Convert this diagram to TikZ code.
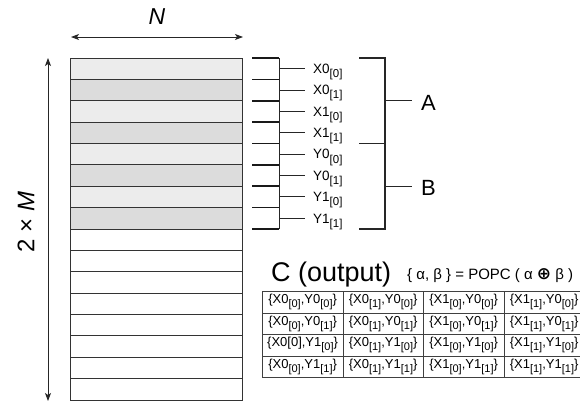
\documentclass[tikz,border=0pt]{standalone}
\usepackage{fontspec}
\setmainfont{Liberation Sans}
\newfontfamily\symfont{DejaVu Sans}
\usetikzlibrary{arrows.meta}
\newcommand{\lsub}[1]{\raisebox{-0.3em}{\scalebox{0.85}{#1}}}
\definecolor{rowlight}{HTML}{ECECEC}
\definecolor{rowdark}{HTML}{DCDCDC}
\definecolor{linegray}{HTML}{333333}
\begin{document}
\begin{tikzpicture}[x=1pt,y=-1pt,
  rowbox/.style={draw=linegray, line width=0.8pt, minimum width=172pt, minimum height=21.375pt, inner sep=0pt, outer sep=0pt, anchor=north west},
  dimarrow/.style={line width=0.9pt, draw=black!85, {Stealth[length=8pt,width=6pt,inset=2pt]}-{Stealth[length=8pt,width=6pt,inset=2pt]}},
  combtick/.style={line width=1.6pt, draw=black!90},
  combline/.style={line width=1pt, draw=black!85},
  lab/.style={anchor=base west, inner sep=0pt, font=\fontsize{13.5}{15}\selectfont},
  bigbr/.style={line width=1.2pt, draw=black!85},
  bigl/.style={font=\fontsize{22}{23}\selectfont, inner sep=0pt},
  cell/.style={draw=black!75, line width=0.7pt, minimum width=80.5pt, minimum height=21.5pt, inner sep=0pt, anchor=north west, font=\fontsize{13}{14}\selectfont}
]
\useasboundingbox (0,0) rectangle (580,405);
% memory rows
\foreach \i in {0,2,4,6} {\node[rowbox, fill=rowlight] (r\i) at (70,{58+21.375*\i}) {};}
\foreach \i in {1,3,5,7} {\node[rowbox, fill=rowdark] (r\i) at (70,{58+21.375*\i}) {};}
\foreach \i in {8,...,15} {\node[rowbox, fill=white] (r\i) at (70,{58+21.375*\i}) {};}
% N dimension
\coordinate (nl) at (71,37);
\coordinate (nr) at (243,37);
\draw[dimarrow] (nl) -- (nr);
\node[font=\fontsize{23}{24}\selectfont\itshape] (Nlab) at (157,17) {N};
% 2 x M dimension
\coordinate (mt) at (48,58);
\coordinate (mb) at (48,401);
\draw[dimarrow] (mt) -- (mb);
\node[rotate=90, font=\fontsize{24}{25}\selectfont] (Mlab) at (26,222) {2 × \textit{M}};
% comb
\foreach \k in {0,...,8} {\draw[combtick] (252,{58+21.375*\k}) -- (279,{58+21.375*\k});}
\draw[combline] (279,58) -- (279,229);
\foreach \k/\t in {0/X0\lsub{[0]},1/X0\lsub{[1]},2/X1\lsub{[0]},3/X1\lsub{[1]},4/Y0\lsub{[0]},5/Y0\lsub{[1]},6/Y1\lsub{[0]},7/Y1\lsub{[1]}} {
  \draw[combline] (279,{58+21.375*(\k+0.5)}) -- (305,{58+21.375*(\k+0.5)});
  \node[lab] (l\k) at (313,{58+21.375*(\k+0.5)+4.8}) {\t};
}
% big brackets
\draw[bigbr] (359,58) -- (385,58) -- (385,229) -- (359,229);
\draw[bigbr] (359,143.5) -- (385,143.5);
\node[bigl, anchor=west] (A) at (421,103) {A};
\node[bigl, anchor=west] (B) at (421,188) {B};
\coordinate (As) at (412,100.75);
\coordinate (Bs) at (412,186.25);
\draw[bigbr] (385,100.75) -- (As);
\draw[bigbr] (385,186.25) -- (Bs);
% C output
\node[anchor=base west, inner sep=0pt, font=\fontsize{27}{28}\selectfont] (C) at (271,281) {C (output)};
\node[anchor=base west, inner sep=0pt, font=\fontsize{15}{16}\selectfont] (F) at (407,279) {\{ α, β \} = POPC ( α {\symfont\bfseries\fontsize{17}{17}\selectfont ⊕} β )};
% table
\foreach \r/\a/\b/\c/\d in {
 0/{\{X0\lsub{[0]},Y0\lsub{[0]}\}}/{\{X0\lsub{[1]},Y0\lsub{[0]}\}}/{\{X1\lsub{[0]},Y0\lsub{[0]}\}}/{\{X1\lsub{[1]},Y0\lsub{[0]}\}},
 1/{\{X0\lsub{[0]},Y0\lsub{[1]}\}}/{\{X0\lsub{[1]},Y0\lsub{[1]}\}}/{\{X1\lsub{[0]},Y0\lsub{[1]}\}}/{\{X1\lsub{[1]},Y0\lsub{[1]}\}},
 2/{\{X0[0],Y1\lsub{[0]}\}}/{\{X0\lsub{[1]},Y1\lsub{[0]}\}}/{\{X1\lsub{[0]},Y1\lsub{[0]}\}}/{\{X1\lsub{[1]},Y1\lsub{[0]}\}},
 3/{\{X0\lsub{[0]},Y1\lsub{[1]}\}}/{\{X0\lsub{[1]},Y1\lsub{[1]}\}}/{\{X1\lsub{[0]},Y1\lsub{[1]}\}}/{\{X1\lsub{[1]},Y1\lsub{[1]}\}}} {
  \node[cell] (t\r a) at (262,{291+21.5*\r}) {\a};
  \node[cell] (t\r b) at (342.5,{291+21.5*\r}) {\b};
  \node[cell] (t\r c) at (423,{291+21.5*\r}) {\c};
  \node[cell] (t\r d) at (503.5,{291+21.5*\r}) {\d};
}
\end{tikzpicture}
\end{document}
